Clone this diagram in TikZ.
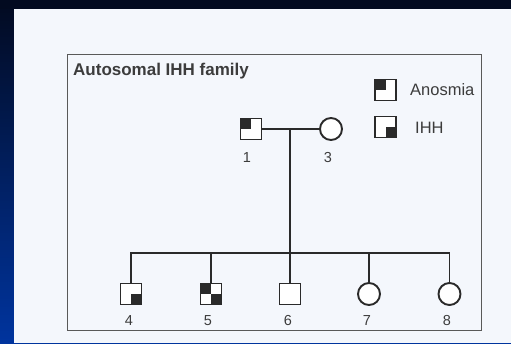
\documentclass[tikz,border=0pt]{standalone}
\usepackage{fontspec}
\setmainfont{Liberation Sans}
\definecolor{navy}{HTML}{020A20}
\definecolor{slideblue}{HTML}{00349E}
\definecolor{paper}{HTML}{F4F7FC}
\definecolor{ink}{HTML}{2A2A2A}
\definecolor{txt}{HTML}{3C3C3C}
\tikzset{
  person/.style={draw=ink, line width=1.9pt, fill=white, inner sep=0pt},
  male/.style={person, rectangle, minimum size=21pt},
  female/.style={person, circle, minimum size=22pt},
  anosmia/.style={path picture={\fill[ink] (path picture bounding box.north west) rectangle (path picture bounding box.center);}},
  ihh/.style={path picture={\fill[ink] (path picture bounding box.center) rectangle (path picture bounding box.south east);}},
  anosmiaihh/.style={path picture={\fill[ink] (path picture bounding box.north west) rectangle (path picture bounding box.center);
     \fill[ink] (path picture bounding box.center) rectangle (path picture bounding box.south east);}},
  link/.style={draw=ink, line width=1.9pt},
  num/.style={text=txt, anchor=base, inner sep=0pt, font=\fontsize{14.5}{14.5}\selectfont},
  legtxt/.style={text=txt, anchor=base west, inner sep=0pt, font=\fontsize{16.5}{16.5}\selectfont},
}
\begin{document}
\begin{tikzpicture}[x=1pt,y=-1pt]
\useasboundingbox (0,0) rectangle (511,343);
% slide background
\shade[top color=navy, middle color=slideblue!85!navy, bottom color=slideblue] (0,0) rectangle (511,343);
\fill[navy] (0,0) rectangle (511,9);
\fill[paper] (14,9) rectangle (511,343);
% frame
\draw[draw=black!65, line width=1pt] (67,54) rectangle (481,330);
% title
\node[text=txt, anchor=base west, inner sep=0pt, font=\bfseries\fontsize{17}{17}\selectfont] (title) at (73,75) {Autosomal IHH family};
% legend
\node[male, anosmia] (legA) at (385.5,90) {};
\node[legtxt] (legAt) at (410,95) {Anosmia};
\node[male, ihh] (legI) at (385.5,127) {};
\node[legtxt] (legIt) at (415,133) {IHH};
% parents
\node[male, anosmia] (n1) at (251,129) {};
\node[female] (n3) at (331,129) {};
\node[num] (l1) at (247,162) {1};
\node[num] (l3) at (328,162) {3};
\coordinate (m) at (290,129);
\coordinate (s) at (290,253);
% children
\node[male, ihh] (n4) at (131,294) {};
\node[male, anosmiaihh] (n5) at (211,294) {};
\node[male] (n6) at (290,294) {};
\node[female] (n7) at (369,294) {};
\node[female] (n8) at (449.5,294) {};
\node[num] (l4) at (129,325) {4};
\node[num] (l5) at (208,325) {5};
\node[num] (l6) at (288,325) {6};
\node[num] (l7) at (367,325) {7};
\node[num] (l8) at (447,325) {8};
% connectors
\draw[link] (n1.east) -- (n3.west);
\draw[link] (m) -- (s);
\draw[link] (n4.north) |- (s) -| (n8.north);
\draw[link] (n5.north) -- (n5.north |- s);
\draw[link] (n6.north) -- (n6.north |- s);
\draw[link] (n7.north) -- (n7.north |- s);
\end{tikzpicture}
\end{document}
